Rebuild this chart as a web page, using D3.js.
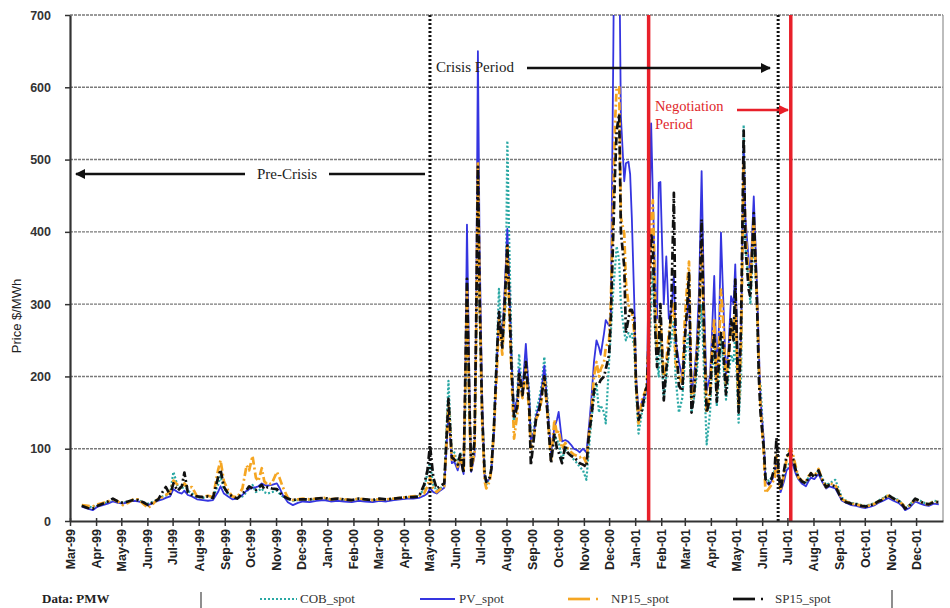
<!DOCTYPE html>
<html><head><meta charset="utf-8">
<script src="https://cdn.jsdelivr.net/npm/d3@7"></script>
<style>
html,body{margin:0;padding:0;background:#fff;}
svg{display:block;}
</style></head>
<body>
<svg id="chart" width="950" height="608"></svg>
<script>
const dates = [
"1999-03-15","1999-03-22","1999-03-28","1999-04-03","1999-04-09","1999-04-15","1999-04-21","1999-04-27",
"1999-05-03","1999-05-09","1999-05-15","1999-05-21","1999-05-27","1999-06-02","1999-06-08","1999-06-14",
"1999-06-19","1999-06-23","1999-06-28","1999-07-02","1999-07-07","1999-07-12","1999-07-15","1999-07-19",
"1999-07-24","1999-07-30","1999-08-06","1999-08-12","1999-08-18","1999-08-24","1999-08-27","1999-08-31",
"1999-09-05","1999-09-10","1999-09-16","1999-09-22","1999-09-27","1999-09-30","1999-10-04","1999-10-08",
"1999-10-11","1999-10-15","1999-10-18","1999-10-22","1999-10-27","1999-11-02","1999-11-05","1999-11-09",
"1999-11-15","1999-11-21","1999-11-27","1999-12-03","1999-12-11","1999-12-19","1999-12-28","2000-01-05",
"2000-01-13","2000-01-21","2000-01-30","2000-02-07","2000-02-15","2000-02-24","2000-03-03","2000-03-11",
"2000-03-20","2000-03-28","2000-04-05","2000-04-12","2000-04-19","2000-04-25","2000-04-29","2000-05-02",
"2000-05-06","2000-05-10","2000-05-14","2000-05-19","2000-05-24","2000-05-28","2000-05-31","2000-06-04",
"2000-06-07","2000-06-11","2000-06-13","2000-06-15","2000-06-18","2000-06-20","2000-06-24","2000-06-26",
"2000-06-28","2000-06-30","2000-07-03","2000-07-06","2000-07-08","2000-07-12","2000-07-14","2000-07-17",
"2000-07-21","2000-07-23","2000-07-27","2000-07-31","2000-08-02","2000-08-04","2000-08-07","2000-08-10",
"2000-08-14","2000-08-16","2000-08-20","2000-08-24","2000-08-28","2000-08-30","2000-09-03","2000-09-05",
"2000-09-09","2000-09-12","2000-09-15","2000-09-18","2000-09-23","2000-09-27","2000-09-30","2000-10-02",
"2000-10-06","2000-10-10","2000-10-13","2000-10-17","2000-10-20","2000-10-24","2000-10-27","2000-10-31",
"2000-11-04","2000-11-07","2000-11-10","2000-11-13","2000-11-16","2000-11-19","2000-11-21","2000-11-25",
"2000-11-27","2000-12-01","2000-12-03","2000-12-06","2000-12-08","2000-12-10","2000-12-13","2000-12-15",
"2000-12-19","2000-12-21","2000-12-24","2000-12-26","2000-12-28","2000-12-31","2001-01-02","2001-01-05",
"2001-01-09","2001-01-13","2001-01-15","2001-01-17","2001-01-20","2001-01-22","2001-01-25","2001-01-27",
"2001-01-29","2001-01-31","2001-02-04","2001-02-07","2001-02-10","2001-02-13","2001-02-16","2001-02-18",
"2001-02-22","2001-02-26","2001-03-01","2001-03-04","2001-03-06","2001-03-09","2001-03-12","2001-03-15",
"2001-03-18","2001-03-21","2001-03-24","2001-03-27","2001-03-31","2001-04-02","2001-04-05","2001-04-08",
"2001-04-11","2001-04-13","2001-04-15","2001-04-19","2001-04-22","2001-04-25","2001-04-28","2001-04-30",
"2001-05-04","2001-05-07","2001-05-10","2001-05-12","2001-05-16","2001-05-18","2001-05-22","2001-05-26",
"2001-05-28","2001-05-30","2001-06-03","2001-06-05","2001-06-09","2001-06-12","2001-06-16","2001-06-18",
"2001-06-21","2001-06-23","2001-06-27","2001-06-30","2001-07-04","2001-07-07","2001-07-11","2001-07-14",
"2001-07-18","2001-07-23","2001-07-26","2001-07-29","2001-08-02","2001-08-07","2001-08-11","2001-08-16",
"2001-08-20","2001-08-27","2001-09-04","2001-09-09","2001-09-15","2001-09-21","2001-09-27","2001-10-02",
"2001-10-08","2001-10-13","2001-10-17","2001-10-23","2001-10-29","2001-11-04","2001-11-10","2001-11-15",
"2001-11-18","2001-11-23","2001-11-30","2001-12-06","2001-12-11","2001-12-16","2001-12-22","2001-12-28"
];

const cob = [
22,20,19,22,24,26,28,26,
25,27,29,29,26,24,27,30,
34,35,38,68,48,44,50,42,
38,33,32,34,32,50,62,45,
38,33,32,34,40,46,50,40,
42,45,40,38,40,42,38,34,
30,28,29,30,29,30,31,29,
30,29,28,30,29,28,30,29,
30,31,32,33,34,45,66,80,
50,42,45,50,194,90,95,80,
95,70,150,300,150,75,100,250,
470,300,150,70,50,60,75,130,
250,321,243,300,526,400,240,130,
180,231,174,230,180,114,130,150,
170,190,227,180,90,120,110,110,
85,100,95,90,85,80,75,70,
57,100,140,170,190,150,160,150,
135,220,259,320,350,380,360,300,
260,250,260,255,259,240,180,121,
150,170,180,200,300,350,260,220,
200,260,170,200,230,250,280,200,
150,170,220,250,260,150,170,200,
250,300,200,106,150,200,240,159,
200,250,230,168,200,230,220,260,
136,200,548,380,330,300,400,290,
200,189,100,60,55,60,70,80,
60,45,60,75,80,85,70,61,
55,52,60,66,62,70,60,50,
52,57,32,28,25,24,22,21,
23,25,28,32,36,32,29,24,
18,22,31,28,25,24,28,27
];

const pv = [
20,17,15,20,22,24,27,25,
24,26,28,27,25,22,25,28,
30,32,34,44,40,38,42,36,
34,30,29,28,29,40,48,38,
34,30,31,36,42,44,46,47,
48,52,50,49,50,52,46,36,
26,22,25,27,26,28,29,27,
28,27,26,28,27,26,28,27,
29,30,31,31,32,35,38,45,
40,38,42,46,150,80,82,70,
85,65,200,410,180,68,90,300,
650,380,170,60,55,58,70,120,
230,290,250,350,404,330,220,150,
170,210,180,245,170,110,125,145,
160,185,215,170,95,130,140,151,
110,112,110,105,100,98,95,100,
95,130,170,220,250,240,230,260,
278,270,282,650,950,1000,800,560,
470,495,497,480,420,300,200,150,
165,175,185,350,550,450,320,280,
468,469,300,366,280,290,340,250,
220,200,260,290,310,180,200,240,
320,484,300,180,200,250,339,200,
280,399,330,200,240,311,300,355,
180,260,520,420,360,340,449,320,
240,170,110,55,50,55,65,85,
55,40,55,70,75,80,65,58,
52,48,55,60,58,65,55,45,
48,45,28,25,22,21,19,18,
20,22,25,28,32,28,25,20,
15,18,27,24,22,21,24,23
];

const np15 = [
22,21,20,23,25,27,30,27,
22,25,30,30,24,18,24,31,
33,36,40,56,50,45,52,46,
47,34,33,35,33,70,84,55,
42,34,33,45,77,70,90,60,
55,73,55,50,52,68,60,47,
32,29,30,31,30,31,32,30,
31,30,29,31,30,29,30,30,
31,32,33,34,35,38,48,60,
45,40,44,48,160,85,90,75,
90,68,180,320,140,70,95,260,
498,320,140,55,45,55,72,125,
220,280,230,320,380,300,200,114,
150,200,170,210,150,100,120,141,
150,170,200,160,84,140,120,125,
100,108,100,95,92,90,88,90,
80,120,150,200,220,200,210,220,
240,250,300,450,550,600,600,420,
398,330,300,290,290,260,190,135,
167,180,190,260,420,444,300,240,
260,280,200,220,260,280,300,220,
200,190,280,330,359,170,180,230,
280,380,260,150,180,230,280,180,
250,320,290,190,230,270,260,300,
160,250,500,400,340,330,420,300,
220,160,90,39,45,50,60,90,
58,42,65,85,100,95,75,60,
56,55,62,66,62,72,58,47,
52,50,30,27,24,23,21,20,
22,24,27,31,35,31,28,23,
18,21,30,27,24,23,27,26
];

const sp15 = [
21,18,17,21,24,27,31,27,
25,27,29,29,26,22,26,30,
40,47,36,52,42,48,67,40,
36,34,33,34,32,60,71,47,
38,34,31,38,43,48,45,43,
46,50,44,47,45,44,40,35,
31,29,30,30,30,31,32,30,
31,30,29,31,30,29,31,30,
31,32,33,33,34,50,70,105,
60,45,48,52,169,88,85,78,
92,66,200,335,160,70,110,280,
490,310,150,65,54,60,72,128,
240,289,240,330,381,320,210,141,
160,206,174,220,160,77,120,140,
155,175,200,160,80,121,100,95,
80,105,94,90,88,84,80,78,
75,120,144,180,190,190,195,200,
210,230,280,400,480,540,563,400,
352,260,280,292,292,280,190,140,
153,180,186,250,398,380,260,213,
240,300,167,210,240,300,454,260,
187,180,250,300,343,150,175,220,
280,417,250,150,170,220,260,165,
230,260,250,175,220,279,250,334,
150,280,540,380,320,310,426,297,
200,150,100,58,52,58,75,115,
62,44,70,90,94,90,70,61,
55,52,60,66,60,70,58,47,
50,48,29,26,24,23,21,20,
22,24,27,30,36,31,28,22,
17,21,31,27,24,23,26,26
];

const seriesNames = ["COB_spot","PV_spot","NP15_spot","SP15_spot"];
const yTickValues = [0,100,200,300,400,500,600,700];
const markerDates = {crisisStart:"2000-05-02", negStart:"2001-01-17", crisisEnd:"2001-06-20", negEnd:"2001-07-05"};

const parse = d3.timeParse("%Y-%m-%d");
const svg = d3.select("#chart");
const L = 70, R = 943, T = 15, B = 521;

const x = d3.scaleTime().domain([new Date(1999,2,1), new Date(2002,0,2)]).range([L, R]);
const y = d3.scaleLinear().domain([0,700]).range([B, T]);

svg.append("defs").append("clipPath").attr("id","clip")
  .append("rect").attr("x",L).attr("y",T).attr("width",R-L).attr("height",B-T);

// gridlines
svg.append("g").selectAll("line").data(yTickValues.filter(v=>v>0)).join("line")
  .attr("x1",L).attr("x2",R).attr("y1",d=>y(d)).attr("y2",d=>y(d))
  .attr("stroke","#7a7a7a").attr("stroke-width",1.4).attr("stroke-dasharray","3,1");
// right border
svg.append("line").attr("x1",R).attr("x2",R).attr("y1",T).attr("y2",B)
  .attr("stroke","#9a9a9a").attr("stroke-width",1.3);

const parsedDates = dates.map(parse);
const n = Math.min(dates.length, cob.length, pv.length, np15.length, sp15.length);
function mk(arr){ const out=[]; for(let i=0;i<n;i++) out.push({date:parsedDates[i], v:arr[i]}); return out; }

const line = d3.line().x(d=>x(d.date)).y(d=>y(d.v));
const series = [
  {name:"COB_spot", data:mk(cob), color:"#2aa8a4", width:2.2, dash:"2,2"},
  {name:"PV_spot", data:mk(pv), color:"#3535e0", width:1.8, dash:null},
  {name:"NP15_spot", data:mk(np15), color:"#f5a623", width:2.7, dash:"8,3,2,3"},
  {name:"SP15_spot", data:mk(sp15), color:"#111111", width:2.7, dash:"8,3,2,3"}
];
const gLines = svg.append("g").attr("clip-path","url(#clip)");
series.forEach(s=>{
  gLines.append("path").datum(s.data).attr("d",line)
    .attr("fill","none").attr("stroke",s.color).attr("stroke-width",s.width)
    .attr("stroke-linejoin","round")
    .attr("stroke-dasharray",s.dash);
});

// vertical markers
function vline(dateStr, color, w, dash){
  const xv = x(parse(dateStr));
  svg.append("line").attr("x1",xv).attr("x2",xv).attr("y1",T).attr("y2",B)
    .attr("stroke",color).attr("stroke-width",w).attr("stroke-dasharray",dash);
}
vline(markerDates.crisisStart,"#111",3,"2,2");
vline(markerDates.crisisEnd,"#111",3,"2,2");
vline(markerDates.negStart,"#e8202a",3.5,null);
vline(markerDates.negEnd,"#e8202a",3.5,null);

// axes
const months = d3.timeMonth.range(new Date(1999,2,1), new Date(2002,0,1));
const fmt = d3.timeFormat("%b-%y");
const xAxis = svg.append("g").attr("transform",`translate(0,${B})`)
  .call(d3.axisBottom(x).tickValues(months).tickFormat(fmt).tickSize(5).tickSizeOuter(0));
xAxis.select(".domain").attr("stroke","#333").attr("stroke-width",2);
xAxis.selectAll(".tick line").attr("stroke","#333").attr("stroke-width",1.5).attr("y1",-3);
xAxis.selectAll(".tick text")
  .attr("transform","rotate(-90)").attr("x",-8).attr("y",0).attr("dy","0.35em")
  .style("text-anchor","end").attr("font-family","Liberation Sans, Arial, sans-serif")
  .attr("font-size",12.5).attr("font-weight","bold").attr("fill","#222");

const yAxis = svg.append("g").attr("transform",`translate(${L},0)`)
  .call(d3.axisLeft(y).tickValues(yTickValues).tickSize(5).tickPadding(14).tickSizeOuter(0));
yAxis.select(".domain").attr("stroke","#333").attr("stroke-width",2.2);
yAxis.selectAll(".tick line").attr("stroke","#333").attr("stroke-width",1.5);
yAxis.selectAll(".tick text").attr("font-family","Liberation Sans, Arial, sans-serif")
  .attr("font-size",12.5).attr("font-weight","bold").attr("fill","#333");

svg.append("text").attr("transform","translate(21,316) rotate(-90)")
  .attr("text-anchor","middle").attr("font-family","Liberation Sans, Arial, sans-serif")
  .attr("font-size",13).attr("fill","#222").text("Price $/MWh");

// arrows
const defs = svg.select("defs");
function marker(id,color){
  defs.append("marker").attr("id",id).attr("viewBox","0 0 10 10").attr("refX",9).attr("refY",5)
    .attr("markerWidth",4).attr("markerHeight",4).attr("orient","auto-start-reverse")
    .append("path").attr("d","M0,0 L10,5 L0,10 z").attr("fill",color);
}
marker("arrB","#111"); marker("arrR","#e8202a");

// Pre-Crisis
svg.append("line").attr("x1",245).attr("x2",76).attr("y1",174).attr("y2",174)
  .attr("stroke","#111").attr("stroke-width",2.5).attr("marker-end","url(#arrB)");
svg.append("line").attr("x1",329).attr("x2",425).attr("y1",174).attr("y2",174)
  .attr("stroke","#111").attr("stroke-width",2.5);
svg.append("text").attr("x",287).attr("y",179).attr("text-anchor","middle")
  .attr("font-family","Liberation Serif, Times New Roman, serif").attr("font-size",15)
  .attr("fill","#222").text("Pre-Crisis");

// Crisis Period
svg.append("text").attr("x",436).attr("y",72)
  .attr("font-family","Liberation Serif, Times New Roman, serif").attr("font-size",15)
  .attr("fill","#222").text("Crisis Period");
svg.append("line").attr("x1",527).attr("x2",770).attr("y1",68).attr("y2",68)
  .attr("stroke","#111").attr("stroke-width",2.5).attr("marker-end","url(#arrB)");

// Negotiation Period
svg.append("text").attr("x",655).attr("y",111)
  .attr("font-family","Liberation Serif, Times New Roman, serif").attr("font-size",14.5)
  .attr("fill","#e0262a").text("Negotiation");
svg.append("text").attr("x",655).attr("y",129)
  .attr("font-family","Liberation Serif, Times New Roman, serif").attr("font-size",14.5)
  .attr("fill","#e0262a").text("Period");
svg.append("line").attr("x1",737).attr("x2",788).attr("y1",110).attr("y2",110)
  .attr("stroke","#e8202a").attr("stroke-width",2.5).attr("marker-end","url(#arrR)");

// legend
const ly = 599;
const lf = "Liberation Serif, Times New Roman, serif";
svg.append("text").attr("x",42).attr("y",603).attr("font-family",lf).attr("font-size",13)
  .attr("font-weight","bold").attr("fill","#222").text("Data: PMW");
svg.append("line").attr("x1",201).attr("x2",201).attr("y1",592).attr("y2",608).attr("stroke","#444").attr("stroke-width",1.2);
svg.append("line").attr("x1",892).attr("x2",892).attr("y1",590).attr("y2",608).attr("stroke","#444").attr("stroke-width",1.2);
const legendItems = [
  {s:series[0], x1:260, x2:297, dot:null, tx:300},
  {s:series[1], x1:420, x2:455, dot:null, tx:459},
  {s:series[2], x1:568, x2:590, dot:597, tx:611},
  {s:series[3], x1:733, x2:755, dot:762, tx:775}
];
legendItems.forEach(it=>{
  svg.append("line").attr("x1",it.x1).attr("x2",it.x2).attr("y1",ly).attr("y2",ly)
    .attr("stroke",it.s.color).attr("stroke-width",it.s.width)
    .attr("stroke-dasharray", it.s.name==="COB_spot" ? "2,2" : null);
  if(it.dot!==null){
    svg.append("line").attr("x1",it.dot-1).attr("x2",it.dot+1).attr("y1",ly).attr("y2",ly)
      .attr("stroke",it.s.color).attr("stroke-width",it.s.width);
  }
  svg.append("text").attr("x",it.tx).attr("y",603).attr("font-family",lf).attr("font-size",13)
    .attr("fill","#333").text(it.s.name);
});
</script>
</body></html>
